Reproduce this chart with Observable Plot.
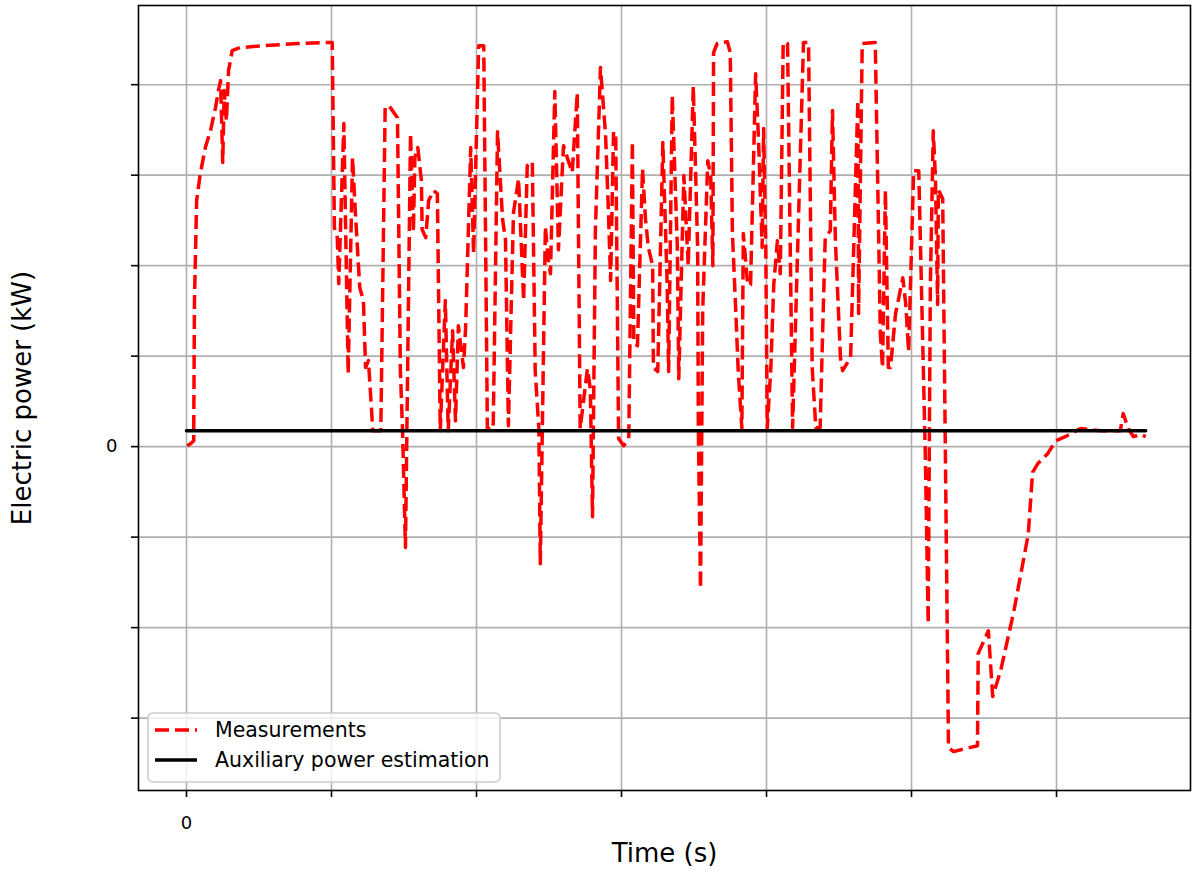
<!DOCTYPE html>
<html>
<head>
<meta charset="utf-8">
<script src="https://cdn.jsdelivr.net/npm/d3@7"></script>
<script src="https://cdn.jsdelivr.net/npm/@observablehq/plot@0.6"></script>
<style>
  html, body { margin: 0; padding: 0; background: white; }
  #chart { position: relative; width: 1197px; height: 872px; }
</style>
</head>
<body>
<div id="chart"></div>
<script>
// Measured electric power (kW) against time (s)
const time = [1, 6, 10, 10, 11, 14, 19, 26, 33, 40, 44, 47, 50, 52, 55, 58, 63, 74, 106, 153, 185, 201,
  204, 208, 210, 217, 223, 229, 233, 239, 244, 247, 251, 257, 268, 274, 279, 291, 295, 298, 302,
  309, 313, 315, 319, 324, 325, 330, 334, 341, 346, 350, 357, 361, 367, 371, 375, 382, 385, 392, 396, 403, 410,
  415, 423, 429, 436, 440, 444, 451, 458, 465, 470, 477, 481, 486, 488, 495, 499, 502, 508, 513,
  520, 527, 532, 539, 543, 553, 557, 560, 564, 571, 578, 582, 585, 589, 592, 596, 603, 610, 615,
  617, 622, 629, 633, 637, 643, 644, 650, 657, 663, 665, 670, 677, 679, 686, 692, 699, 705, 706,
  709, 712, 719, 723, 726, 727, 732, 746, 750, 753, 757, 761, 766, 768, 774, 778, 785, 789, 794,
  796, 799, 801, 806, 810, 815, 819, 823, 829, 836, 851, 858, 863, 868, 874, 877, 881, 888, 891,
  895, 902, 905, 916, 926, 927, 932, 950, 957, 960, 964, 968, 971, 978, 988, 992, 996, 1003, 1010,
  1019, 1023, 1026, 1030, 1033, 1036, 1037, 1043, 1051, 1058, 1091, 1092, 1106, 1112, 1123, 1141,
  1161, 1167, 1174, 1188, 1199, 1212, 1233, 1261, 1288, 1292, 1299, 1306, 1316, 1323];
const power = [0.2, 0.7, 1.3, 4.0, 32.3, 54.4, 60.3, 66.1, 69.8, 74.9, 78.7, 80.9, 62.8, 78.7, 72.0, 83.1, 87.5, 88.2, 88.6, 89.1, 89.3, 89.3,
  48.4, 46.2, 36.0, 71.4, 16.1, 63.9, 51.5, 35.1, 32.3, 17.5, 19.0, 3.5, 3.5, 74.9, 75.4, 72.7, 16.8, 3.5, -22.3,
  69.2, 47.5, 64.0, 66.1, 58.8, 48.0, 46.2, 54.4, 56.6, 55.9, 3.5, 32.3, 3.5, 25.6, 5.7, 26.7, 17.5, 26.3, 66.1, 42.7, 88.6, 88.6,
  4.0, 4.0, 69.6, 50.2, 45.7, 4.6, 51.7, 59.2, 32.3, 62.1, 63.0, 16.6, 4.0, -25.9, 48.6, 41.3, 38.2, 78.5, 43.5,
  66.5, 63.0, 60.6, 78.2, 4.0, 17.2, 12.8, -15.5, 48.0, 83.8, 69.0, 51.7, 36.7, 69.6, 69.2, 1.8, 0.2, 1.8, 67.4,
  23.0, 22.3, 61.4, 50.4, 44.0, 40.0, 17.5, 16.6, 67.2, 35.8, 16.6, 77.6, 44.0, 15.0, 59.9, 40.0, 79.6, 44.0, 4.0,
  -31.4, 30.3, 63.2, 59.9, 40.0, 87.1, 89.1, 89.5, 87.1, 47.1, 32.3, 16.6, 4.0, 47.1, 35.8, 35.8, 82.4, 67.8, 44.0,
  70.3, 44.0, 4.0, 17.5, 35.8, 45.5, 38.2, 89.3, 89.1, 4.2, 89.3, 89.3, 17.5, 4.2, 4.2, 22.8, 46.2, 47.7, 74.3,
  45.5, 19.7, 16.8, 19.7, 76.5, 29.4, 89.1, 89.3, 25.0, 17.5, 56.6, 17.5, 17.5, 29.4, 37.3, 31.6, 21.0, 61.0, 61.0,
  -1.5, -39.1, 36.0, 69.8, 59.4, 31.4, 56.8, 54.8, -66.5, -67.4, -66.1, -45.7, -40.7, -55.2, -49.5, -36.5,
  -19.4, -5.7, -3.8, -1.5, 1.3, 2.2, 4.0, 3.5, 3.5, 7.3, 4.0, 2.2, 2.7, 2.2];

// Auxiliary power estimation (constant)
const auxTime = [0, 1323];
const auxPower = [3.5, 3.5];

// Ticks (only 0 is labelled in the original)
const xTicks = [0, 200, 400, 600, 800, 1000, 1200];
const yTicks = [-60, -40, -20, 0, 20, 40, 60, 80];
const labelledTicks = [0];

const seriesNames = ["Measurements", "Auxiliary power estimation"];
const xLabel = "Time (s)";
const yLabel = "Electric power (kW)";

const measurements = time.map((t, i) => ({t, p: power[i]}));
const aux = auxTime.map((t, i) => ({t, p: auxPower[i]}));

const fmt = d => labelledTicks.includes(d) ? String(d) : "";

const chart = Plot.plot({
  width: 1197,
  height: 872,
  marginLeft: 138,
  marginRight: 7,
  marginTop: 5,
  marginBottom: 82,
  x: {domain: [-66.2, 1384.8]},
  y: {domain: [-76.0, 97.5]},
  style: {fontFamily: "DejaVu Sans", fontSize: "18px", background: "white", color: "black"},
  marks: [
    Plot.gridX(xTicks, {stroke: "#b0b0b0", strokeOpacity: 1, strokeWidth: 1.6}),
    Plot.gridY(yTicks, {stroke: "#b0b0b0", strokeOpacity: 1, strokeWidth: 1.6}),
    Plot.line(measurements, {x: "t", y: "p", stroke: "#ff0000", strokeWidth: 3.5,
      strokeDasharray: "14,6", strokeLinejoin: "round", strokeLinecap: "butt"}),
    Plot.line(aux, {x: "t", y: "p", stroke: "black", strokeWidth: 3.5}),
    Plot.frame({stroke: "black", strokeWidth: 1.6}),
    Plot.axisX(xTicks, {tickSize: 7, tickPadding: 19, tickFormat: fmt, label: null, strokeWidth: 1.6, fontSize: 18}),
    Plot.axisY(yTicks, {tickSize: 7, tickPadding: 14, tickFormat: fmt, label: null, strokeWidth: 1.6, fontSize: 18}),
    Plot.text([xLabel], {frameAnchor: "bottom", dy: 63, lineAnchor: "middle", textAnchor: "middle", fontSize: 26, fill: "black"}),
    Plot.text([yLabel], {frameAnchor: "left", dx: -116, rotate: -90, lineAnchor: "middle", textAnchor: "middle", fontSize: 26, fill: "black"})
  ]
});

document.getElementById("chart").appendChild(chart);

// Legend inside the axes (lower left), like matplotlib
const svg = d3.select(chart);
const lg = svg.append("g").attr("font-family", "DejaVu Sans").attr("font-size", 20.5).attr("text-anchor", "start");
lg.append("rect").attr("x", 148).attr("y", 713).attr("width", 352).attr("height", 69)
  .attr("rx", 5).attr("fill", "white").attr("fill-opacity", 0.8).attr("stroke", "#cccccc").attr("stroke-width", 1.6);
const styles = [
  {stroke: "#ff0000", dash: "14,6"},
  {stroke: "black", dash: null}
];
seriesNames.forEach((name, i) => {
  const yy = 730 + i * 30;
  const ln = lg.append("line").attr("x1", 155).attr("x2", 197).attr("y1", yy).attr("y2", yy)
    .attr("stroke", styles[i].stroke).attr("stroke-width", 3.5);
  if (styles[i].dash) ln.attr("stroke-dasharray", styles[i].dash);
  lg.append("text").attr("x", 215).attr("y", yy).attr("dy", "0.35em").attr("text-anchor", "start")
    .attr("fill", "black").text(name);
});
</script>
</body>
</html>
